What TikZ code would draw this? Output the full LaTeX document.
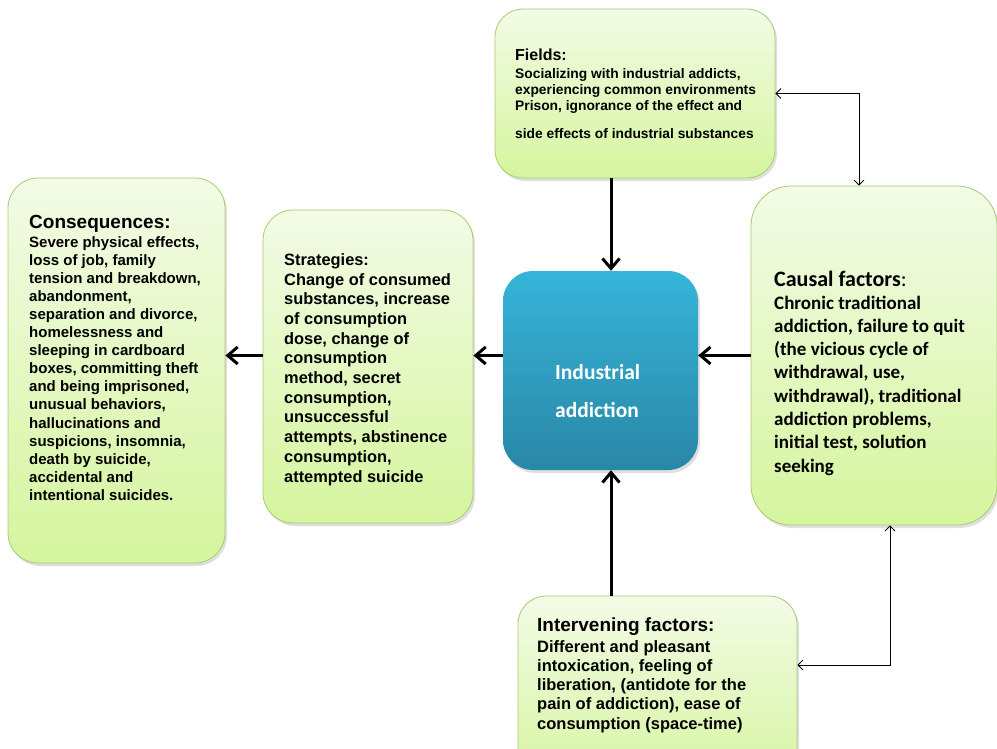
\documentclass[tikz,border=0pt]{standalone}
\usepackage{fontspec}
\setmainfont{Liberation Sans}
\newfontfamily\calfont{Carlito}
\usetikzlibrary{arrows.meta,shadows}
\definecolor{gtop}{HTML}{F3FBE6}
\definecolor{gbot}{HTML}{D5F59E}
\definecolor{gborder}{HTML}{A6CC6E}
\definecolor{ttop}{HTML}{36B5D9}
\definecolor{tbot}{HTML}{2987A6}
\newcommand\mylines[3]{\parbox[t]{400pt}{\fontsize{#1}{#2}\selectfont\bfseries #3}}
\begin{document}
\begin{tikzpicture}[x=1pt,y=-1pt,
  gbox/.style={draw=gborder, line width=0.8pt, top color=gtop, bottom color=gbot,
    rounded corners=#1, inner sep=0pt,
    drop shadow={shadow xshift=2pt, shadow yshift=-3pt, opacity=0.25}},
  tbox/.style={draw=none, top color=ttop, bottom color=tbot,
    rounded corners=#1, inner sep=0pt,
    drop shadow={shadow xshift=2pt, shadow yshift=-3pt, opacity=0.25}},
  txt/.style={anchor=base west, inner sep=0pt},
  thickarr/.style={line width=3pt, -{Straight Barb[length=10pt,width=17pt,line width=3pt]}},
  thinarr/.style={line width=0.8pt, {Straight Barb[length=5pt,width=10pt]}-{Straight Barb[length=5pt,width=10pt]}}
]
\useasboundingbox (0,0) rectangle (997,748);

% boxes
\node[gbox=28, minimum width=280pt, minimum height=169pt] (fields) at (635,93.5) {};
\node[gbox=40, minimum width=246pt, minimum height=339pt] (causal) at (874,355.5) {};
\node[gbox=30, minimum width=217pt, minimum height=385pt] (cons) at (116.5,370.5) {};
\node[gbox=30, minimum width=210pt, minimum height=313pt] (strat) at (368,366.5) {};
\node[tbox=30, minimum width=195pt, minimum height=199pt] (ind) at (600.5,370.5) {};
\node[gbox=28, minimum width=279pt, minimum height=194pt] (interv) at (657.5,693) {};

% texts
\node[txt] (tfields) at (515,60) {\mylines{16}{19}{Fields:}};
\node[txt] (bfields) at (515,78) {\mylines{13.8}{16}{Socializing with industrial addicts,\\experiencing common environments\\Prison, ignorance of the effect and\\[12pt]side effects of industrial substances}};

\node[txt] (tcons) at (29,228) {\mylines{19}{22}{Consequences:}};
\node[txt] (bcons) at (29,247) {\mylines{15}{18.1}{Severe physical effects,\\loss of job, family\\tension and breakdown,\\abandonment,\\separation and divorce,\\homelessness and\\sleeping in cardboard\\boxes, committing theft\\and being imprisoned,\\unusual behaviors,\\hallucinations and\\suspicions, insomnia,\\death by suicide,\\accidental and\\intentional suicides.}};

\node[txt] (tstrat) at (284,265) {\mylines{16.4}{19.7}{Strategies:}};
\node[txt] (bstrat) at (284,285) {\mylines{16.4}{19.7}{Change of consumed\\substances, increase\\of consumption\\dose, change of\\consumption\\method, secret\\consumption,\\unsuccessful\\attempts, abstinence\\consumption,\\attempted suicide}};

\node[txt] (tcausal) at (774,286) {\mylines{22}{26}{\calfont Causal factors\mdseries:}};
\node[txt] (bcausal) at (774,309) {\mylines{19}{23.3}{\calfont Chronic traditional\\addiction, failure to quit\\(the vicious cycle of\\withdrawal, use,\\withdrawal), traditional\\addiction problems,\\initial test, solution\\seeking}};

\node[txt] (tinterv) at (537,631) {\mylines{19}{22}{Intervening factors:}};
\node[txt] (binterv) at (537,652) {\mylines{16.5}{19.3}{Different and pleasant\\intoxication, feeling of\\liberation, (antidote for the\\pain of addiction), ease of\\consumption (space-time)}};

\node[txt, text=white] (tind) at (555,379) {\mylines{21.5}{38}{\calfont Industrial\\addiction}};

% connectors
\coordinate (vx) at (611,0);
\draw[thickarr] (fields.south -| vx) -- (ind.north -| vx);
\draw[thickarr] (interv.north -| vx) -- (ind.south -| vx);
\draw[thickarr] (causal.west) -- (causal.west -| ind.east);
\draw[thickarr] (ind.west |- causal.west) -- (strat.east |- causal.west);
\draw[thickarr] (strat.west |- causal.west) -- (cons.east |- causal.west);

\draw[thinarr] (fields.east) -| ([xshift=-15pt]causal.north);
\draw[thinarr] ([xshift=16pt]causal.south) |- ([yshift=28pt]interv.east);
\end{tikzpicture}
\end{document}
